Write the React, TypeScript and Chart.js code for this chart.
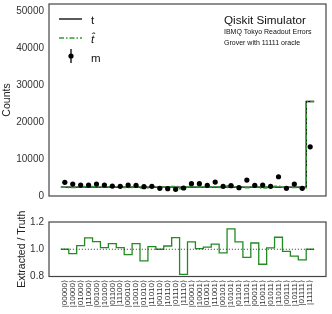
import React, { useEffect, useRef } from "react";
import { Chart, registerables } from "chart.js";

Chart.register(...registerables);

const FONT = "'Liberation Sans', Arial, sans-serif";

const states = [
  "|00000⟩", "|10000⟩", "|01000⟩", "|11000⟩", "|00100⟩", "|10100⟩", "|01100⟩", "|11100⟩",
  "|00010⟩", "|10010⟩", "|01010⟩", "|11010⟩", "|00110⟩", "|10110⟩", "|01110⟩", "|11110⟩",
  "|00001⟩", "|10001⟩", "|01001⟩", "|11001⟩", "|00101⟩", "|10101⟩", "|01101⟩", "|11101⟩",
  "|00011⟩", "|10011⟩", "|01011⟩", "|11011⟩", "|00111⟩", "|10111⟩", "|01111⟩", "|11111⟩",
];

// truth counts t
const truth = [
  2400, 2400, 2400, 2400, 2400, 2400, 2400, 2400,
  2400, 2400, 2400, 2400, 2400, 2400, 2400, 2400,
  2400, 2400, 2400, 2400, 2400, 2400, 2400, 2400,
  2400, 2400, 2400, 2400, 2400, 2400, 2400, 25600,
];

// extracted counts t-hat
const extracted = [
  2400, 2323, 2465, 2599, 2534, 2429, 2498, 2429,
  2306, 2498, 2196, 2448, 2400, 2458, 2604, 1956,
  2530, 2412, 2436, 2489, 2335, 2758, 2530, 2258,
  2510, 2136, 2424, 2611, 2364, 2278, 2213, 25600,
];

// measured counts m
const measured = [
  3700, 3240, 2970, 2970, 3240, 2970, 2700, 2610,
  2970, 2880, 2520, 2610, 2070, 1980, 1800, 2160,
  3330, 3330, 2880, 3780, 2610, 2790, 2250, 4320,
  2880, 2970, 2610, 5220, 2070, 3240, 2070, 13330,
];

// extracted / truth
const ratio = [
  1.0, 0.968, 1.027, 1.083, 1.056, 1.012, 1.041, 1.012,
  0.961, 1.041, 0.915, 1.02, 1.0, 1.024, 1.085, 0.815,
  1.054, 1.005, 1.015, 1.037, 0.973, 1.149, 1.054, 0.941,
  1.046, 0.89, 1.01, 1.088, 0.985, 0.949, 0.922, 1.0,
];

const countTicks = [0, 10000, 20000, 30000, 40000, 50000];
const ratioTicks = [0.8, 1.0, 1.2];
const ratioTickLabels = ["0.8", "1.0", "1.2"];
const legendLabels = ["t", "t\u0302", "m"];
const infoLines = ["Qiskit Simulator", "IBMQ Tokyo Readout Errors", "Grover with 11111 oracle"];

const stepData = (vals: number[]) => {
  const pts = vals.map((v, i) => ({ x: i - 0.5, y: v }));
  pts.push({ x: vals.length - 0.5, y: vals[vals.length - 1] });
  return pts;
};

const GREEN = "#2ca02c";
const FRAME = "#444";

const framePlugin = {
  id: "frame",
  afterDraw(chart: any) {
    const { ctx, chartArea: a } = chart;
    ctx.save();
    ctx.strokeStyle = FRAME;
    ctx.lineWidth = 1.2;
    ctx.strokeRect(a.left, a.top, a.right - a.left, a.bottom - a.top);
    ctx.restore();
  },
};

const topDecor = {
  id: "topDecor",
  afterDraw(chart: any) {
    const { ctx } = chart;
    ctx.save();
    // legend
    const x0 = 59, x1 = 82;
    ctx.lineWidth = 1.3;
    ctx.strokeStyle = "#000";
    ctx.beginPath(); ctx.moveTo(x0, 19); ctx.lineTo(x1, 19); ctx.stroke();
    ctx.strokeStyle = GREEN;
    ctx.lineWidth = 1.5;
    ctx.setLineDash([5, 2, 1.5, 2]);
    ctx.beginPath(); ctx.moveTo(x0, 38); ctx.lineTo(x1, 38); ctx.stroke();
    ctx.setLineDash([]);
    ctx.strokeStyle = "#000";
    ctx.lineWidth = 1.3;
    ctx.beginPath(); ctx.moveTo(71, 49); ctx.lineTo(71, 63); ctx.stroke();
    ctx.fillStyle = "#000";
    ctx.beginPath(); ctx.arc(71, 56, 2.6, 0, Math.PI * 2); ctx.fill();

    ctx.fillStyle = "#111";
    ctx.textAlign = "left";
    ctx.textBaseline = "alphabetic";
    ctx.font = `11.5px ${FONT}`;
    ctx.fillText(legendLabels[0], 91, 23.5);
    ctx.font = `italic 11.5px ${FONT}`;
    ctx.fillText(legendLabels[1], 91, 42.5);
    ctx.font = `11.5px ${FONT}`;
    ctx.fillText(legendLabels[2], 91, 62);

    // info text
    ctx.font = `11.7px ${FONT}`;
    ctx.fillText(infoLines[0], 224, 24);
    ctx.font = `7px ${FONT}`;
    ctx.fillText(infoLines[1], 224, 33.5);
    ctx.fillText(infoLines[2], 224, 45);
    ctx.restore();
  },
};

const fixY = (s: any) => {
  s.width = 49;
  s.paddingTop = 0;
  s.paddingBottom = 0;
};

export default function App() {
  const topRef = useRef<HTMLCanvasElement>(null);
  const botRef = useRef<HTMLCanvasElement>(null);

  useEffect(() => {
    Chart.defaults.font.family = FONT;
    const top = new Chart(topRef.current!, {
      type: "line",
      data: {
        datasets: [
          {
            label: "t\u0302",
            data: stepData(extracted),
            borderColor: GREEN,
            borderWidth: 1.5,
            borderDash: [5, 2, 1.5, 2],
            stepped: true,
            pointRadius: 0,
            order: 1,
          },
          {
            label: "t",
            data: stepData(truth),
            borderColor: "#000",
            borderWidth: 1.3,
            stepped: true,
            pointRadius: 0,
            order: 2,
          },
          {
            label: "m",
            data: measured.map((v, i) => ({ x: i, y: v })),
            showLine: false,
            pointRadius: 2.6,
            pointBackgroundColor: "#000",
            pointBorderWidth: 0,
            order: 0,
          },
        ],
      },
      options: {
        animation: false,
        responsive: false,
        maintainAspectRatio: false,
        layout: { padding: { left: 0, right: 6, top: 4, bottom: 3 } },
        plugins: { legend: { display: false }, tooltip: { enabled: false } },
        scales: {
          x: { type: "linear", min: -2, max: 33, display: false },
          y: {
            type: "linear",
            min: 0,
            max: 52000,
            grid: { display: false, drawTicks: false },
            border: { display: false },
            afterFit: fixY,
            afterBuildTicks: (s: any) => { s.ticks = countTicks.map((v) => ({ value: v })); },
            ticks: { padding: 5, color: "#333", font: { size: 10 }, callback: (v: any) => String(v) },
            title: { display: true, text: "Counts", color: "#222", padding: { top: 1, bottom: 0 }, font: { size: 10.5 } },
          },
        },
      },
      plugins: [framePlugin, topDecor],
    } as any);

    const bot = new Chart(botRef.current!, {
      type: "line",
      data: {
        datasets: [
          {
            label: "ratio",
            data: stepData(ratio),
            borderColor: "#228b22",
            borderWidth: 1.3,
            stepped: true,
            pointRadius: 0,
            order: 1,
          },
          {
            label: "one",
            data: [{ x: -0.5, y: 1 }, { x: 31.5, y: 1 }],
            borderColor: "#333",
            borderWidth: 1,
            borderDash: [1, 2],
            pointRadius: 0,
            order: 0,
          },
        ],
      },
      options: {
        animation: false,
        responsive: false,
        maintainAspectRatio: false,
        layout: { padding: { left: 0, right: 6, top: 22, bottom: 0 } },
        plugins: { legend: { display: false }, tooltip: { enabled: false } },
        scales: {
          x: {
            type: "linear",
            min: -2,
            max: 33,
            grid: { display: false, drawTicks: false },
            border: { display: false },
            afterBuildTicks: (s: any) => { s.ticks = states.map((_, i) => ({ value: i })); },
            afterFit: (s: any) => { s.height = 37.5; s.paddingLeft = 0; s.paddingRight = 0; },
            ticks: {
              autoSkip: false,
              minRotation: 90,
              maxRotation: 90,
              padding: 3.5,
              color: "#333",
              font: { size: 8 },
              callback: (v: any) => states[Math.round(v)],
            },
          },
          y: {
            type: "linear",
            min: 0.8,
            max: 1.2,
            grid: { display: false, drawTicks: false },
            border: { display: false },
            afterFit: fixY,
            afterBuildTicks: (s: any) => { s.ticks = ratioTicks.map((v) => ({ value: v })); },
            ticks: {
              padding: 5,
              color: "#333",
              font: { size: 10 },
              callback: (v: any) => ratioTickLabels[ratioTicks.findIndex((t) => Math.abs(t - v) < 1e-6)],
            },
            title: { display: true, text: "Extracted / Truth", color: "#222", padding: { top: 15.4, bottom: 0 }, font: { size: 10.5 } },
          },
        },
      },
      plugins: [framePlugin],
    } as any);

    return () => { top.destroy(); bot.destroy(); };
  }, []);

  return (
    <div style={{ position: "fixed", left: 0, top: 0, width: 332, height: 314, background: "#fff" }}>
      <canvas ref={topRef} width={332} height={200} style={{ position: "absolute", left: 0, top: 0, width: 332, height: 200 }} />
      <canvas ref={botRef} width={332} height={114} style={{ position: "absolute", left: 0, top: 200, width: 332, height: 114 }} />
    </div>
  );
}
